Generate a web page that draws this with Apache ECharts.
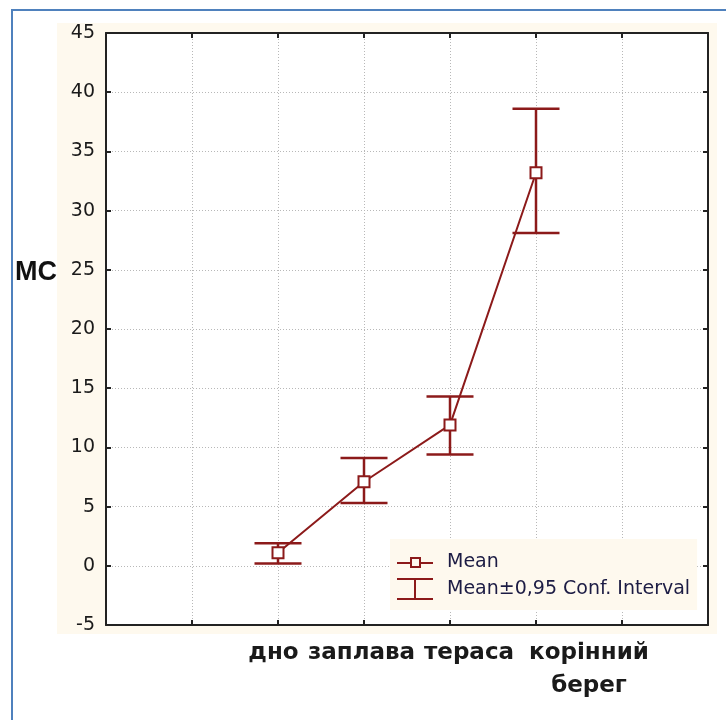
<!DOCTYPE html>
<html>
<head>
<meta charset="utf-8">
<script src="https://cdn.jsdelivr.net/npm/echarts@6/dist/echarts.min.js"></script>
<style>
  html, body { margin: 0; padding: 0; background: #ffffff; }
  #chart { width: 726px; height: 720px; }
</style>
</head>
<body>
<div id="chart"></div>
<script>
// ---- data ----
const categories = ['дно', 'заплава', 'тераса', 'корінний\nберег'];
const means = [1.1, 7.1, 11.9, 33.2];
const ciLow = [0.2, 5.3, 9.4, 28.1];
const ciHigh = [1.9, 9.1, 14.3, 38.6];
const yMin = -5, yMax = 45, yStep = 5;
const yAxisName = 'MC';
const meanName = 'Mean';
const ciName = 'Mean±0,95 Conf. Interval';

// two empty slots on the left, two on the right (axis spans 8 positions)
const xSlots = ['', ' '].concat(categories, ['  ', '   ']);
const firstCat = 2;

const RED = '#8c1a1a';
const INK = '#1a1a1a';

const labelShift = [
  [[0, 9, 0, 0]],
  [[0, 5, 0, 0]],
  [[0, 0, 0, 38]],
  [[0, 0, 0, 106], [0, 0, 0, 106]]
];
const rich = {};
labelShift.forEach((lines, i) => lines.forEach((pad, j) => {
  rich['c' + i + '_' + j] = {
    fontFamily: 'DejaVu Sans', fontWeight: 'bold', fontSize: 23,
    color: INK, lineHeight: 33, padding: pad
  };
}));

const chart = echarts.init(document.getElementById('chart'), null, { renderer: 'canvas' });

const frameLine = { show: true, onZero: false, lineStyle: { color: '#222', width: 2 } };
const tickStyle = { show: true, inside: true, length: 5, lineStyle: { color: '#222', width: 2 } };
const gridLine = { show: true, lineStyle: { color: '#b8b8b8', width: 1, type: [1, 2] } };

chart.setOption({
  animation: false,
  backgroundColor: '#ffffff',
  graphic: [
    { type: 'rect', z: -100, silent: true, shape: { x: 57, y: 23, width: 660, height: 611 }, style: { fill: '#fef9ee' } },
    { type: 'line', z: 100, silent: true, shape: { x1: 12, y1: 10, x2: 12, y2: 720 }, style: { stroke: '#4f81bd', lineWidth: 2 } },
    { type: 'line', z: 100, silent: true, shape: { x1: 11, y1: 10, x2: 726, y2: 10 }, style: { stroke: '#4f81bd', lineWidth: 2 } },
    { type: 'text', z: 100, silent: true, left: 15, top: 259,
      style: { text: yAxisName, font: 'bold 27px "Liberation Sans", Arial, sans-serif', fill: '#111' } }
  ],
  grid: {
    left: 106, right: 18, top: 33, bottom: 95,
    containLabel: false, outerBoundsMode: 'none',
    show: true, backgroundColor: '#ffffff', borderWidth: 0
  },
  legend: {
    orient: 'vertical', left: 390, top: 539,
    padding: [14, 7, 10, 7],
    backgroundColor: '#fef9ee',
    itemWidth: 36, itemHeight: 22, itemGap: 6,
    symbolKeepAspect: true,
    selectedMode: false,
    textStyle: { fontFamily: 'DejaVu Sans', fontSize: 19, color: '#1c1c44', padding: [0, 0, 0, 9] },
    data: [
      { name: meanName, icon: 'path://M0,10h13v2h-13z M13,5h11v11h-11z M15,7v7h7v-7z M24,10h12v2h-12z',
        itemStyle: { color: RED, borderWidth: 0 } },
      { name: ciName, icon: 'path://M0,0h36v2h-36z M17,2h2v18h-2z M0,20h36v2h-36z',
        itemStyle: { color: RED, borderWidth: 0 } }
    ]
  },
  xAxis: [
    {
      type: 'category', data: xSlots, boundaryGap: false, position: 'bottom',
      axisLine: frameLine,
      axisTick: Object.assign({ interval: 0 }, tickStyle),
      splitLine: Object.assign({ interval: 0 }, gridLine),
      axisLabel: {
        interval: 0, margin: 12, hideOverlap: false,
        formatter: (val, idx) => {
          const i = idx - firstCat;
          if (i < 0 || i >= categories.length) return '';
          return val.split('\n').map((l, j) => '{c' + i + '_' + j + '|' + l + '}').join('\n');
        },
        rich: rich
      }
    },
    {
      type: 'category', data: xSlots, boundaryGap: false, position: 'top',
      axisLine: frameLine,
      axisTick: Object.assign({ interval: 0 }, tickStyle),
      splitLine: { show: false },
      axisLabel: { show: false }
    }
  ],
  yAxis: [
    {
      type: 'value', min: yMin, max: yMax, interval: yStep, position: 'left',
      axisLine: frameLine,
      axisTick: tickStyle,
      splitLine: gridLine,
      axisLabel: { margin: 11, fontFamily: 'DejaVu Sans', fontSize: 19, color: INK }
    },
    {
      type: 'value', min: yMin, max: yMax, interval: yStep, position: 'right',
      axisLine: frameLine,
      axisTick: tickStyle,
      splitLine: { show: false },
      axisLabel: { show: false }
    }
  ],
  series: [
    {
      name: ciName,
      type: 'custom',
      xAxisIndex: 0, yAxisIndex: 0,
      z: 3,
      encode: { x: 0, y: [1, 2] },
      data: categories.map((c, i) => [c, ciLow[i], ciHigh[i]]),
      itemStyle: { color: RED },
      renderItem: (params, api) => {
        const x = api.value(0);
        const lo = api.coord([x, api.value(1)]);
        const hi = api.coord([x, api.value(2)]);
        const half = 23.5;
        const st = { stroke: RED, lineWidth: 2.5, fill: null };
        return {
          type: 'group',
          children: [
            { type: 'line', shape: { x1: hi[0], y1: hi[1], x2: lo[0], y2: lo[1] }, style: st },
            { type: 'line', shape: { x1: hi[0] - half, y1: hi[1], x2: hi[0] + half, y2: hi[1] }, style: st },
            { type: 'line', shape: { x1: lo[0] - half, y1: lo[1], x2: lo[0] + half, y2: lo[1] }, style: st }
          ]
        };
      }
    },
    {
      name: meanName,
      type: 'line',
      xAxisIndex: 0, yAxisIndex: 0,
      z: 4,
      data: categories.map((c, i) => [c, means[i]]),
      symbol: 'rect', symbolSize: 11,
      lineStyle: { color: RED, width: 2 },
      itemStyle: { color: '#ffffff', borderColor: RED, borderWidth: 2 }
    }
  ]
});
</script>
</body>
</html>
